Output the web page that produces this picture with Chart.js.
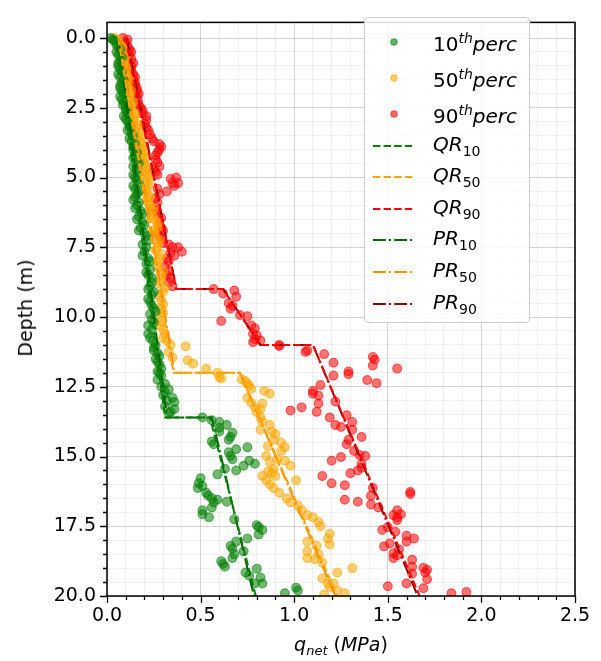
<!DOCTYPE html>
<html>
<head>
<meta charset="utf-8">
<script src="https://cdn.jsdelivr.net/npm/chart.js@4.4.1/dist/chart.umd.min.js"></script>
<style>
    body { margin: 0; background: #fff; font-family: "DejaVu Sans", sans-serif; color: #000; }
    #wrap { position: relative; width: 601px; height: 661px; }
    #legend {
        position: absolute; left: 364px; top: 17px; width: 166px; height: 306px;
        border: 1px solid #cccccc; border-radius: 4px; background: rgba(255,255,255,0.85);
        box-sizing: border-box;
    }
    .row { position: absolute; left: 0; width: 100%; height: 30px; }
    .row svg { position: absolute; left: 7px; top: 0; }
    .row .txt { position: absolute; left: 68px; top: 50%; transform: translateY(-50%); font-size: 20px; white-space: nowrap; line-height: 1; }
    .txt sup { font-size: 14px; vertical-align: 8px; font-style: italic; }
    .txt sub { font-size: 14px; vertical-align: -5px; }
    #xlabel { position: absolute; left: 341px; top: 645px; transform: translate(-50%, -50%); font-size: 19px; white-space: nowrap; }
    #xlabel sub { font-size: 13px; vertical-align: -4px; font-style: italic; }
    #ylabel { position: absolute; left: 25px; top: 308px; transform: translate(-50%, -50%) rotate(-90deg); font-size: 19px; white-space: nowrap; }
</style>
</head>
<body>
<div id="wrap">
    <canvas id="depthChart" width="601" height="661"></canvas>
    <div id="legend"></div>
    <div id="xlabel"><i>q</i><sub>net</sub> (<i>MPa</i>)</div>
    <div id="ylabel">Depth (m)</div>
</div>
<script>
// 10th percentile points (depth m, q_net MPa)
const greenDepth = [0.0, 0.1, 0.25, 0.4, 0.6, 0.8, 1.0, 1.2, 1.4, 1.6, 1.8, 2.0, 2.2, 2.4, 2.6, 2.8, 3.0, 3.2, 3.4, 3.6,
    3.8, 4.0, 4.2, 4.4, 4.6, 4.8, 5.0, 5.2, 5.4, 5.6, 5.8, 6.0, 6.2, 6.4, 6.6, 6.8, 7.0, 7.25, 7.4, 7.65,
    7.9, 8.1, 8.3, 8.5, 8.75, 9.0, 9.2, 9.45, 9.7, 9.9, 10.1, 10.3, 10.6, 10.85, 11.1, 11.3, 11.5, 11.7, 11.95, 12.1,
    12.25, 12.4, 12.6, 12.8, 12.9, 13.05, 13.2, 13.3, 13.45,
    13.6, 13.7, 13.76, 13.87, 13.97, 14.1, 14.15, 14.3, 14.4, 14.46, 14.56, 14.67, 14.74, 14.85, 14.98, 15.1, 15.15, 15.26, 15.33, 15.44,
    15.5, 15.64, 15.78, 15.96, 16.06, 16.13, 16.3, 16.4, 16.5, 16.55, 16.62, 16.65, 16.83, 16.93, 17.07, 17.18, 17.25, 17.46, 17.53, 17.63,
    17.8, 17.94, 18.05, 18.2, 18.3, 18.4, 18.5, 18.64, 18.75, 18.85, 18.95, 19.02, 19.16, 19.27, 19.34, 19.55, 19.55, 19.7, 19.8, 19.9,
    0.05, 0.3, 0.5, 0.7, 0.9, 1.1, 1.3, 1.5, 1.7, 1.9, 2.1, 2.3, 2.5, 2.7, 2.9, 3.1, 3.3, 3.5, 3.7, 3.9,
    4.1, 4.3, 4.5, 4.7, 4.9, 5.1, 5.3, 5.5, 5.7, 5.9, 6.1, 6.3, 6.5, 6.7, 6.9, 7.1, 7.5, 7.8, 8.0, 8.4,
    8.6, 8.9, 9.1, 9.35, 9.6, 9.8, 10.2, 10.45, 10.75, 11.0, 11.2, 11.4, 11.6, 11.85, 12.0, 12.5, 12.7, 13.0, 13.4];
const greenQnet = [0.02, 0.04, 0.05, 0.07, 0.06, 0.07, 0.06, 0.08, 0.07, 0.08, 0.07, 0.09, 0.08, 0.085, 0.10, 0.09, 0.11, 0.12, 0.13, 0.12,
    0.15, 0.14, 0.15, 0.16, 0.14, 0.16, 0.15, 0.17, 0.15, 0.16, 0.14, 0.16, 0.18, 0.17, 0.19, 0.18, 0.20, 0.22, 0.19, 0.20,
    0.22, 0.21, 0.23, 0.22, 0.24, 0.22, 0.24, 0.23, 0.25, 0.23, 0.24, 0.22, 0.22, 0.245, 0.25, 0.27, 0.26, 0.28, 0.27, 0.29,
    0.27, 0.31, 0.33, 0.30, 0.35, 0.36, 0.31, 0.36, 0.33,
    0.51, 0.56, 0.60, 0.64, 0.60, 0.60, 0.67, 0.66, 0.65, 0.56, 0.57, 0.75, 0.69, 0.65, 0.66, 0.67, 0.76, 0.79, 0.73, 0.63,
    0.69, 0.59, 0.50, 0.49, 0.51, 0.485, 0.53, 0.54, 0.56, 0.59, 0.64, 0.57, 0.56, 0.51, 0.51, 0.545, 0.68, 0.80, 0.81, 0.83,
    0.81, 0.75, 0.69, 0.66, 0.67, 0.73, 0.68, 0.67, 0.61, 0.62, 0.63, 0.80, 0.74, 0.76, 0.82, 0.83, 0.79, 1.01, 1.02, 0.95,
    0.03, 0.06, 0.05, 0.08, 0.06, 0.07, 0.06, 0.09, 0.07, 0.08, 0.07, 0.09, 0.10, 0.11, 0.10, 0.12, 0.11, 0.14, 0.13, 0.14,
    0.16, 0.14, 0.17, 0.16, 0.14, 0.16, 0.14, 0.17, 0.15, 0.17, 0.15, 0.19, 0.16, 0.20, 0.17, 0.21, 0.21, 0.19, 0.23, 0.21,
    0.24, 0.23, 0.25, 0.22, 0.24, 0.26, 0.25, 0.24, 0.23, 0.26, 0.25, 0.28, 0.27, 0.29, 0.28, 0.29, 0.31, 0.32, 0.34];

// 50th percentile points
const orangeDepth = [0.0, 0.1, 0.25, 0.4, 0.6, 0.8, 1.0, 1.2, 1.4, 1.6, 1.8, 2.0, 2.2, 2.4, 2.6, 2.8, 3.0, 3.2, 3.4, 3.6,
    3.8, 4.0, 4.2, 4.4, 4.6, 4.8, 5.0, 5.2, 5.4, 5.6, 5.8, 6.0, 6.2, 6.45, 6.65, 6.9, 7.1, 7.35, 7.6, 7.9,
    8.2, 8.5, 8.8, 9.1, 9.4, 9.7, 10.0, 10.3, 10.6, 10.85, 11.0, 11.05, 11.25, 11.45, 11.55, 11.67, 11.85, 12.0, 12.15, 12.2,
    12.23, 12.3, 12.4, 12.47, 12.57, 12.65, 12.75, 12.9, 13.07, 13.1, 13.24, 13.3, 13.4, 13.6, 13.75, 13.87, 14.04, 14.1, 14.2, 14.4,
    14.5, 14.63, 14.67, 14.8, 14.98, 15.1, 15.15, 15.2, 15.33, 15.44, 15.54, 15.6, 15.7, 15.7, 15.85, 15.85, 16.0, 16.13, 16.3, 16.5,
    16.65, 16.76, 16.93, 17.1, 17.18, 17.35, 17.5, 17.77, 17.95, 18.05, 18.15, 18.2, 18.4, 18.5, 18.64, 18.68, 18.8, 19.0, 19.16, 19.37,
    19.55, 19.55, 19.68, 19.8, 19.9, 19.95,
    0.05, 0.3, 0.5, 0.7, 0.9, 1.1, 1.3, 1.5, 1.7, 1.9, 2.1, 2.3, 2.5, 2.7, 2.9, 3.1, 3.3, 3.5, 3.7, 3.9,
    4.1, 4.3, 4.5, 4.7, 4.9, 5.1, 5.3, 5.5, 5.7, 5.9, 6.1, 6.35, 6.55, 6.8, 7.0, 7.25, 7.5, 7.75, 8.05, 8.35,
    8.65, 8.95, 9.25, 9.55, 9.85, 10.15, 10.45, 10.75];
const orangeQnet = [0.04, 0.06, 0.07, 0.09, 0.08, 0.09, 0.10, 0.09, 0.11, 0.10, 0.11, 0.12, 0.11, 0.13, 0.13, 0.15, 0.14, 0.16, 0.17, 0.16,
    0.19, 0.18, 0.20, 0.19, 0.21, 0.20, 0.22, 0.20, 0.21, 0.22, 0.21, 0.23, 0.24, 0.25, 0.27, 0.25, 0.26, 0.27, 0.26, 0.28,
    0.27, 0.29, 0.28, 0.30, 0.29, 0.29, 0.28, 0.28, 0.31, 0.32, 0.34, 0.42, 0.33, 0.35, 0.43, 0.46, 0.53, 0.59, 0.60, 0.61,
    0.72, 0.74, 0.75, 0.76, 0.77, 0.84, 0.87, 0.75, 0.77, 0.83, 0.79, 0.82, 0.80, 0.82, 0.83, 0.87, 0.82, 0.88, 0.90, 0.89,
    0.93, 0.86, 0.95, 0.93, 0.85, 0.91, 0.95, 0.87, 0.98, 0.89, 0.86, 0.88, 0.83, 0.90, 0.85, 1.01, 0.87, 0.89, 0.92, 0.96,
    0.98, 1.02, 1.04, 1.07, 1.10, 1.13, 1.14, 1.19, 1.18, 1.07, 1.19, 1.12, 1.07, 1.13, 1.07, 1.11, 1.15, 1.31, 1.23, 1.15,
    1.18, 1.21, 1.19, 1.23, 1.27, 1.16,
    0.05, 0.08, 0.07, 0.10, 0.08, 0.11, 0.10, 0.12, 0.11, 0.13, 0.12, 0.14, 0.12, 0.15, 0.14, 0.17, 0.15, 0.18, 0.18, 0.20,
    0.19, 0.21, 0.20, 0.22, 0.21, 0.23, 0.22, 0.20, 0.23, 0.22, 0.25, 0.23, 0.26, 0.27, 0.25, 0.28, 0.27, 0.29, 0.27, 0.30,
    0.29, 0.31, 0.28, 0.30, 0.30, 0.29, 0.30, 0.30];

// 90th percentile points
const redDepth = [0.0, 0.15, 0.4, 0.6, 0.75, 1.0, 1.3, 1.5, 1.7, 1.9, 2.1, 2.25, 2.5, 2.7, 2.8, 3.07, 3.3, 3.6, 3.8, 4.0,
    4.2, 4.46, 4.7, 4.9, 5.0, 5.05, 5.2, 5.2, 5.4, 5.5, 5.75, 6.1, 6.3, 6.55, 6.8, 7.0, 7.2, 7.35, 7.5, 7.5,
    7.66, 7.8, 7.9, 8.2, 8.5, 8.6, 8.9, 9.0, 9.05, 9.16, 9.27, 9.5, 9.6, 9.7, 9.93, 9.97, 10.14, 10.3, 10.4, 10.6,
    10.66, 10.8, 10.84, 10.9, 11.0, 11.04, 11.2, 11.25, 11.33, 11.43, 11.53, 11.64, 11.74, 11.85, 11.95, 12.05, 12.1, 12.26, 12.37, 12.44,
    12.65, 12.75, 12.82, 13.03, 13.1, 13.24, 13.35, 13.4, 13.52, 13.6, 13.76, 13.87, 13.94, 14.04, 14.3, 14.4, 14.56, 14.8, 14.95, 14.98,
    15.02, 15.15, 15.26, 15.4, 15.5, 15.6, 15.7, 15.96, 16.03, 16.13, 16.27, 16.34, 16.41, 16.55, 16.62, 16.72, 16.83, 16.93, 17.07, 17.1,
    17.18, 17.28, 17.53, 17.63, 17.7, 17.84, 17.94, 18.05, 18.12, 18.22, 18.33, 18.47, 18.54, 18.64, 18.7, 18.95, 18.99, 19.06, 19.16, 19.2,
    19.4, 19.55, 19.65, 19.72, 19.86, 19.9,
    0.05, 0.3, 0.5, 0.9, 1.15, 1.4, 1.6, 1.8, 2.0, 2.4, 2.6, 2.95, 3.2, 3.45, 3.7, 3.9, 4.1, 4.35, 4.6, 4.8,
    5.3, 5.6, 5.9, 6.2, 6.45, 6.7, 6.9, 7.1, 7.4, 7.7, 8.0, 8.35, 8.75];
const redQnet = [0.085, 0.10, 0.12, 0.12, 0.13, 0.13, 0.14, 0.14, 0.15, 0.16, 0.16, 0.165, 0.18, 0.19, 0.21, 0.20, 0.22, 0.24, 0.28, 0.28,
    0.26, 0.27, 0.25, 0.27, 0.37, 0.34, 0.38, 0.35, 0.27, 0.32, 0.26, 0.25, 0.27, 0.28, 0.29, 0.27, 0.29, 0.30, 0.35, 0.38,
    0.40, 0.36, 0.32, 0.31, 0.32, 0.34, 0.35, 0.57, 0.68, 0.62, 0.69, 0.65, 0.67, 0.66, 0.71, 0.75, 0.61, 0.77, 0.79, 0.78,
    0.80, 0.79, 0.82, 0.78, 0.92, 0.92, 1.07, 1.06, 1.16, 1.42, 1.43, 1.21, 1.42, 1.55, 1.29, 1.29, 1.21, 1.39, 1.44, 1.14,
    1.10, 1.10, 1.13, 1.22, 1.13, 1.04, 0.98, 1.12, 1.28, 1.19, 1.31, 1.22, 1.25, 1.31, 1.36, 1.29, 1.28, 1.32, 1.35, 1.38,
    1.25, 1.20, 1.36, 1.36, 1.34, 1.30, 1.15, 1.20, 1.27, 1.42, 1.62, 1.62, 1.41, 1.27, 1.34, 1.41, 1.45, 1.55, 1.57, 1.53,
    1.55, 1.55, 1.50, 1.47, 1.54, 1.60, 1.64, 1.60, 1.51, 1.48, 1.56, 1.53, 1.55, 1.53, 1.63, 1.63, 1.69, 1.71, 1.70, 1.63,
    1.71, 1.60, 1.50, 1.69, 1.92, 1.84,
    0.11, 0.11, 0.13, 0.14, 0.13, 0.15, 0.15, 0.16, 0.17, 0.17, 0.19, 0.21, 0.21, 0.23, 0.25, 0.29, 0.27, 0.26, 0.28, 0.26,
    0.36, 0.28, 0.27, 0.26, 0.29, 0.28, 0.30, 0.28, 0.33, 0.34, 0.33, 0.33, 0.33];

// fitted profiles
const qr10Depth = [0, 13.6, 13.6, 20];
const qr10Qnet = [0.05, 0.31, 0.55, 0.795];
const qr50Depth = [0, 12, 12, 20];
const qr50Qnet = [0.06, 0.355, 0.71, 1.23];
const qr90Depth = [0, 9, 9, 11, 11, 20];
const qr90Qnet = [0.10, 0.37, 0.62, 0.82, 1.10, 1.67];
const pr10Depth = [0, 13.6, 13.6, 20];
const pr10Qnet = [0.06, 0.32, 0.56, 0.785];
const pr50Depth = [0, 12, 12, 20];
const pr50Qnet = [0.07, 0.36, 0.71, 1.22];
const pr90Depth = [0, 9, 9, 11, 11, 20];
const pr90Qnet = [0.105, 0.37, 0.62, 0.82, 1.10, 1.66];

const DASHED = [7.4, 3.2];
const DASHDOT = [12.8, 3.2, 2, 3.2];

function pts(qs, ds) {
    return qs.map((q, i) => ({ x: q, y: ds[i] }));
}

function scatterSet(label, q, d, rgb) {
    return {
        type: 'scatter', label: label, data: pts(q, d), order: 2,
        backgroundColor: `rgba(${rgb},0.55)`, borderColor: `rgba(${rgb},0.55)`,
        borderWidth: 1.2, pointRadius: 4.4, pointHoverRadius: 4.4
    };
}

function lineSet(label, q, d, color, dash) {
    return {
        type: 'scatter', label: label, data: pts(q, d), order: 1, showLine: true,
        borderColor: color, backgroundColor: color, borderWidth: 2, borderDash: dash,
        pointRadius: 0, pointHoverRadius: 0, fill: false, tension: 0
    };
}

const legendItems = [
    { kind: 'dot', color: 'rgba(0,128,0,0.6)', html: '10<sup>th</sup><i>perc</i>' },
    { kind: 'dot', color: 'rgba(255,165,0,0.6)', html: '50<sup>th</sup><i>perc</i>' },
    { kind: 'dot', color: 'rgba(255,0,0,0.6)', html: '90<sup>th</sup><i>perc</i>' },
    { kind: 'line', color: '#008000', dash: DASHED, html: '<i>QR</i><sub>10</sub>' },
    { kind: 'line', color: '#ffa500', dash: DASHED, html: '<i>QR</i><sub>50</sub>' },
    { kind: 'line', color: '#ff0000', dash: DASHED, html: '<i>QR</i><sub>90</sub>' },
    { kind: 'line', color: '#006400', dash: DASHDOT, html: '<i>PR</i><sub>10</sub>' },
    { kind: 'line', color: '#ff8c00', dash: DASHDOT, html: '<i>PR</i><sub>50</sub>' },
    { kind: 'line', color: '#8b0000', dash: DASHDOT, html: '<i>PR</i><sub>90</sub>' }
];
const legendRowCentres = [24, 60, 96, 128, 159, 191, 222, 254, 286];

const legendBox = document.getElementById('legend');
legendItems.forEach((item, i) => {
    const row = document.createElement('div');
    row.className = 'row';
    row.style.top = (legendRowCentres[i] - 15) + 'px';
    let sym;
    if (item.kind === 'dot') {
        sym = `<svg width="44" height="30"><circle cx="22" cy="15" r="3.3" fill="${item.color}" stroke="${item.color}" stroke-width="1"/></svg>`;
    } else {
        sym = `<svg width="44" height="30"><line x1="1" y1="15" x2="42" y2="15" stroke="${item.color}" stroke-width="2" stroke-dasharray="${item.dash.join(',')}"/></svg>`;
    }
    row.innerHTML = sym + `<span class="txt">${item.html}</span>`;
    legendBox.appendChild(row);
});

function isMajor(v, step) {
    const r = v / step;
    return Math.abs(r - Math.round(r)) < 1e-6;
}

const frameAndTicks = {
    id: 'frameAndTicks',
    afterDraw(chart) {
        const ctx = chart.ctx;
        const a = chart.chartArea;
        const xs = chart.scales.x, ys = chart.scales.y;
        ctx.save();
        ctx.strokeStyle = '#000';
        ctx.lineWidth = 1.3;
        ctx.beginPath();
        xs.ticks.forEach(t => {
            const px = Math.round(xs.getPixelForValue(t.value)) + 0.5;
            const len = isMajor(t.value, 0.5) ? 7 : 4;
            ctx.moveTo(px, a.bottom);
            ctx.lineTo(px, a.bottom + len);
        });
        ys.ticks.forEach(t => {
            const py = Math.round(ys.getPixelForValue(t.value)) + 0.5;
            const len = isMajor(t.value, 2.5) ? 7 : 4;
            ctx.moveTo(a.left, py);
            ctx.lineTo(a.left - len, py);
        });
        ctx.stroke();
        ctx.lineWidth = 1.5;
        ctx.strokeRect(a.left, a.top, a.right - a.left, a.bottom - a.top);
        ctx.restore();
    }
};

const tickFont = { family: '"DejaVu Sans", sans-serif', size: 19 };

new Chart(document.getElementById('depthChart').getContext('2d'), {
    type: 'scatter',
    data: {
        datasets: [
            lineSet('QR10', qr10Qnet, qr10Depth, '#008000', DASHED),
            lineSet('QR50', qr50Qnet, qr50Depth, '#ffa500', DASHED),
            lineSet('QR90', qr90Qnet, qr90Depth, '#ff0000', DASHED),
            lineSet('PR10', pr10Qnet, pr10Depth, '#006400', DASHDOT),
            lineSet('PR50', pr50Qnet, pr50Depth, '#ff8c00', DASHDOT),
            lineSet('PR90', pr90Qnet, pr90Depth, '#8b0000', DASHDOT),
            scatterSet('10th perc', greenQnet, greenDepth, '0,128,0'),
            scatterSet('50th perc', orangeQnet, orangeDepth, '255,165,0'),
            scatterSet('90th perc', redQnet, redDepth, '255,0,0')
        ]
    },
    options: {
        responsive: false,
        animation: false,
        layout: { padding: { left: 0, top: 7, right: 26, bottom: 0 } },
        plugins: {
            legend: { display: false },
            tooltip: { enabled: false }
        },
        scales: {
            x: {
                type: 'linear', min: 0, max: 2.5,
                afterFit: s => { s.height = 65; },
                afterBuildTicks: s => {
                    const t = [];
                    for (let i = 0; i <= 25; i++) t.push({ value: Math.round(i * 10) / 100 });
                    s.ticks = t;
                },
                ticks: {
                    autoSkip: false, maxRotation: 0, padding: 9, color: '#000', font: tickFont,
                    callback: v => isMajor(v, 0.5) ? v.toFixed(1) : ''
                },
                grid: {
                    drawTicks: false,
                    color: c => isMajor(c.tick.value, 0.5) ? 'rgba(0,0,0,0.17)' : 'rgba(0,0,0,0.06)',
                    lineWidth: 1
                },
                border: { display: false }
            },
            y: {
                type: 'linear', reverse: true, min: -0.56, max: 20,
                afterFit: s => { s.width = 107; },
                afterBuildTicks: s => {
                    const t = [];
                    for (let i = 0; i <= 40; i++) t.push({ value: i * 0.5 });
                    s.ticks = t;
                },
                ticks: {
                    autoSkip: false, padding: 11, color: '#000', font: tickFont,
                    callback: v => isMajor(v, 2.5) ? v.toFixed(1) : ''
                },
                grid: {
                    drawTicks: false,
                    color: c => isMajor(c.tick.value, 2.5) ? 'rgba(0,0,0,0.17)' : 'rgba(0,0,0,0.06)',
                    lineWidth: 1
                },
                border: { display: false }
            }
        }
    },
    plugins: [frameAndTicks]
});
</script>
</body>
</html>
